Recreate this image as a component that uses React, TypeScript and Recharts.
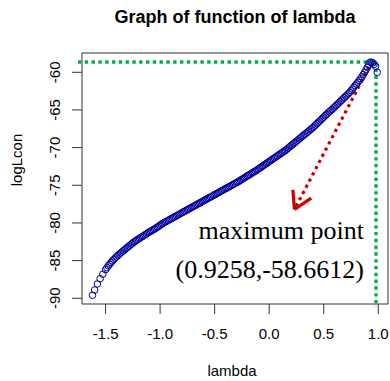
import { ScatterChart, Scatter, XAxis, YAxis, ReferenceLine, ReferenceArea } from "recharts";

const lambdaValues = [
  -1.62, -1.6, -1.575, -1.55, -1.525, -1.5, -1.4875, -1.475,
  -1.4625, -1.45, -1.4375, -1.425, -1.4125, -1.4, -1.3875, -1.375,
  -1.3625, -1.35, -1.3375, -1.325, -1.3125, -1.3, -1.2875, -1.275,
  -1.2625, -1.25, -1.2375, -1.225, -1.2125, -1.2, -1.1875, -1.175,
  -1.1625, -1.15, -1.1375, -1.125, -1.1125, -1.1, -1.0875, -1.075,
  -1.0625, -1.05, -1.0375, -1.025, -1.0125, -1.0, -0.9875, -0.975,
  -0.9625, -0.95, -0.9375, -0.925, -0.9125, -0.9, -0.8875, -0.875,
  -0.8625, -0.85, -0.8375, -0.825, -0.8125, -0.8, -0.7875, -0.775,
  -0.7625, -0.75, -0.7375, -0.725, -0.7125, -0.7, -0.6875, -0.675,
  -0.6625, -0.65, -0.6375, -0.625, -0.6125, -0.6, -0.5875, -0.575,
  -0.5625, -0.55, -0.5375, -0.525, -0.5125, -0.5, -0.4875, -0.475,
  -0.4625, -0.45, -0.4375, -0.425, -0.4125, -0.4, -0.3875, -0.375,
  -0.3625, -0.35, -0.3375, -0.325, -0.3125, -0.3, -0.2875, -0.275,
  -0.2625, -0.25, -0.2375, -0.225, -0.2125, -0.2, -0.1875, -0.175,
  -0.1625, -0.15, -0.1375, -0.125, -0.1125, -0.1, -0.0875, -0.075,
  -0.0625, -0.05, -0.0375, -0.025, -0.0125, 0.0, 0.0125, 0.025,
  0.0375, 0.05, 0.0625, 0.075, 0.0875, 0.1, 0.1125, 0.125,
  0.1375, 0.15, 0.1625, 0.175, 0.1875, 0.2, 0.2125, 0.225,
  0.2375, 0.25, 0.2625, 0.275, 0.2875, 0.3, 0.3125, 0.325,
  0.3375, 0.35, 0.3625, 0.375, 0.3875, 0.4, 0.4125, 0.425,
  0.4375, 0.45, 0.4625, 0.475, 0.4875, 0.5, 0.5125, 0.525,
  0.5375, 0.55, 0.5625, 0.575, 0.5875, 0.6, 0.6125, 0.625,
  0.6375, 0.65, 0.6625, 0.675, 0.6875, 0.7, 0.7125, 0.725,
  0.7375, 0.75, 0.7625, 0.775, 0.7875, 0.8, 0.8125, 0.825,
  0.8375, 0.85, 0.8625, 0.875, 0.8875, 0.9, 0.9125, 0.925,
  0.9375, 0.95, 0.9625, 0.975, 0.99,
];

const logLconValues = [
  -89.6, -88.9, -88.1, -87.4, -86.8, -86.2, -85.95, -85.7,
  -85.47, -85.25, -85.05, -84.85, -84.67, -84.5, -84.32, -84.15,
  -84.0, -83.85, -83.7, -83.55, -83.4, -83.25, -83.1, -82.95,
  -82.8, -82.65, -82.52, -82.4, -82.27, -82.15, -82.02, -81.9,
  -81.8, -81.7, -81.57, -81.45, -81.32, -81.2, -81.1, -81.0,
  -80.9, -80.8, -80.67, -80.55, -80.42, -80.3, -80.17, -80.05,
  -79.95, -79.85, -79.75, -79.65, -79.55, -79.45, -79.35, -79.25,
  -79.15, -79.05, -78.95, -78.85, -78.75, -78.65, -78.55, -78.45,
  -78.35, -78.25, -78.15, -78.05, -77.95, -77.85, -77.75, -77.65,
  -77.55, -77.45, -77.35, -77.25, -77.15, -77.05, -76.95, -76.85,
  -76.75, -76.65, -76.55, -76.45, -76.35, -76.25, -76.15, -76.05,
  -75.95, -75.85, -75.75, -75.65, -75.55, -75.45, -75.35, -75.25,
  -75.15, -75.05, -74.95, -74.85, -74.75, -74.65, -74.55, -74.45,
  -74.32, -74.2, -74.1, -74.0, -73.87, -73.75, -73.65, -73.55,
  -73.42, -73.3, -73.2, -73.1, -72.97, -72.85, -72.72, -72.6,
  -72.47, -72.35, -72.22, -72.1, -71.97, -71.85, -71.72, -71.6,
  -71.47, -71.35, -71.22, -71.1, -70.97, -70.85, -70.72, -70.6,
  -70.47, -70.35, -70.2, -70.05, -69.9, -69.75, -69.6, -69.45,
  -69.3, -69.15, -69.0, -68.85, -68.7, -68.55, -68.4, -68.25,
  -68.1, -67.95, -67.8, -67.65, -67.5, -67.35, -67.17, -67.0,
  -66.82, -66.65, -66.47, -66.3, -66.12, -65.95, -65.77, -65.6,
  -65.42, -65.25, -65.1, -64.95, -64.77, -64.6, -64.42, -64.25,
  -64.07, -63.9, -63.72, -63.55, -63.37, -63.2, -63.02, -62.85,
  -62.65, -62.45, -62.22, -62.0, -61.77, -61.55, -61.32, -61.1,
  -60.85, -60.6, -60.3, -60.0, -59.67, -59.35, -59.0, -58.66,
  -58.68, -58.75, -58.95, -59.2, -60.0,
];

const xTicks = [-1.5, -1.0, -0.5, 0.0, 0.5, 1.0];
const yTicks = [-90, -85, -80, -75, -70, -65, -60];

// guide lines and arrow, in data units
const maxLine = { x: 0.979, y: -58.63, xFrom: -1.753, yTo: -91.16 };
const arrow = { x1: 0.915, y1: -59.3, x2: 0.232, y2: -78.2 };
const arrowWings = [
  { x: 0.217, y: -75.6 },
  { x: 0.385, y: -76.7 },
];

const points = lambdaValues.map((lambda, i) => ({ lambda, logLcon: logLconValues[i] }));

const sans = "'Liberation Sans', Arial, sans-serif";
const serif = "'Liberation Serif', 'Times New Roman', serif";
const axisColor = "#333";
const green = "#0aab4f";
const red = "#c80000";

const OpenCircle = (props: any) => (
  <circle cx={props.cx} cy={props.cy} r={3.3} fill="none" stroke="#00009a" strokeWidth={1} />
);

const RotatedTick = (props: any) => {
  const { x, y, payload } = props;
  return (
    <text x={x} y={y} transform={`rotate(-90 ${x} ${y})`} textAnchor="middle" fontFamily={sans} fontSize={15} fill="#000">
      {payload.value}
    </text>
  );
};

export default function App() {
  return (
    <div style={{ position: "absolute", left: 0, top: 0, width: 390, height: 381, background: "#fff" }}>
      <ScatterChart width={390} height={381} margin={{ top: 53, right: 2, bottom: 0, left: 0 }}>
        <XAxis
          type="number"
          dataKey="lambda"
          domain={[-1.716, 1.089]}
          ticks={xTicks}
          allowDataOverflow
          axisLine={false}
          tickSize={10}
          tickMargin={14}
          height={77}
          tickFormatter={(v: number) => v.toFixed(1)}
          tickLine={{ stroke: axisColor }}
          tick={{ fontFamily: sans, fontSize: 15, fill: "#000" }}
        />
        <YAxis
          type="number"
          dataKey="logLcon"
          domain={[-90.76, -57.44]}
          ticks={yTicks}
          allowDataOverflow
          axisLine={false}
          tickSize={10}
          tickMargin={12}
          width={82}
          tickLine={{ stroke: axisColor }}
          tick={<RotatedTick />}
        />
        <ReferenceArea x1={-1.716} x2={1.089} y1={-90.76} y2={-57.44} fill="none" stroke={axisColor} strokeWidth={1} ifOverflow="visible" />
        <Scatter data={points} shape={<OpenCircle />} isAnimationActive={false} />
        <ReferenceLine
          segment={[{ x: maxLine.xFrom, y: maxLine.y }, { x: maxLine.x, y: maxLine.y }]}
          stroke={green}
          strokeWidth={3.4}
          strokeDasharray="3.4 3.4"
          ifOverflow="visible"
        />
        <ReferenceLine
          segment={[{ x: maxLine.x, y: maxLine.y }, { x: maxLine.x, y: maxLine.yTo }]}
          stroke={green}
          strokeWidth={3.4}
          strokeDasharray="3.4 3.4"
          ifOverflow="visible"
        />
        <ReferenceLine
          segment={[{ x: arrow.x1, y: arrow.y1 }, { x: arrow.x2, y: arrow.y2 }]}
          stroke={red}
          strokeWidth={3.2}
          strokeDasharray="3.2 3.8"
          ifOverflow="visible"
        />
        {arrowWings.map((w, i) => (
          <ReferenceLine
            key={i}
            segment={[{ x: arrow.x2, y: arrow.y2 }, { x: w.x, y: w.y }]}
            stroke={red}
            strokeWidth={3.2}
            ifOverflow="visible"
          />
        ))}
      </ScatterChart>
      <svg width={390} height={381} style={{ position: "absolute", left: 0, top: 0, pointerEvents: "none" }}>
        <text x={235} y={23} textAnchor="middle" fontFamily={sans} fontWeight="bold" fontSize={18} fill="#000">
          Graph of function of lambda
        </text>
        <text x={232} y={376} textAnchor="middle" fontFamily={sans} fontSize={15} fill="#000">
          lambda
        </text>
        <text x={22} y={160} transform="rotate(-90 22 160)" textAnchor="middle" fontFamily={sans} fontSize={15} fill="#000">
          logLcon
        </text>
        <text x={364} y={239} textAnchor="end" fontFamily={serif} fontSize={26} fill="#000">
          maximum point
        </text>
        <text x={364} y={278} textAnchor="end" fontFamily={serif} fontSize={26} fill="#000">
          (0.9258,-58.6612)
        </text>
      </svg>
    </div>
  );
}
